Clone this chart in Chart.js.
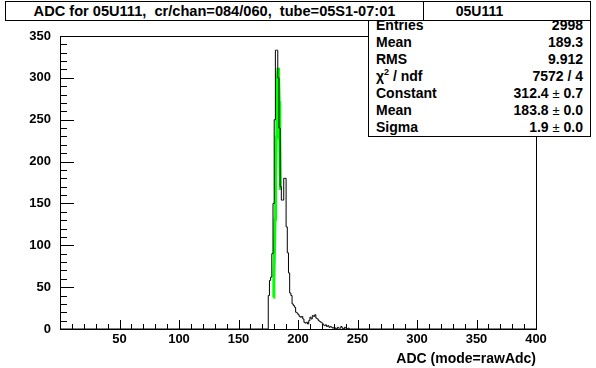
<!DOCTYPE html>
<html>
<head>
<meta charset="utf-8">
<script src="https://cdn.jsdelivr.net/npm/chart.js@4.4.1/dist/chart.umd.min.js"></script>
<style>
  body { margin: 0; background: #fff; }
  #wrap { position: relative; width: 596px; height: 368px; font-family: 'Liberation Sans', Arial, sans-serif; font-weight: bold; color: #000; }
  canvas { position: absolute; left: 0; top: 0; }
  .box { position: absolute; background: #fff; border: 1px solid #000; box-sizing: border-box; }
  #title { left: 5px; top: 1px; width: 419px; height: 20px; font-size: 14.6px; line-height: 19px; text-align: center; z-index: 3; }
  #stats { left: 368px; top: 1px; width: 223px; height: 136px; font-size: 14px; z-index: 2; }
  #stats .head { position: absolute; left: 0; right: 0; top: 0; height: 18px; line-height: 18px; text-align: center; border-bottom: 1px solid #000; }
  #stats .row { position: absolute; left: 7px; right: 7px; height: 17px; line-height: 17px; }
  #stats .row span.v { position: absolute; right: 0; }
  .pm { font-weight: normal; font-size: 13px; }
  sup { font-size: 9px; line-height: 0; vertical-align: 6px; }
</style>
</head>
<body>
<div id="wrap">
  <canvas id="c" width="596" height="368"></canvas>
  <div id="title" class="box">ADC for 05U111,&nbsp; cr/chan=084/060,&nbsp; tube=05S1-07:01</div>
  <div id="stats" class="box"><div class="head">05U111</div></div>
</div>
<script>
// histogram: 1 ADC wide bins starting at binStart
const binStart = 175;
const counts = [40, 58, 62, 90, 150, 250, 333, 333, 300, 240, 170, 154, 154, 180, 180, 122,
  91, 67, 43, 40, 30, 28, 26, 20, 19, 17, 15, 14, 15, 12, 8, 7, 8, 6,
  10, 14, 12, 16, 15, 17, 13, 12, 10, 9, 8, 7, 5,
  4, 5, 3, 4, 2, 3, 2, 1, 2,
  1, 0, 2, 1, 1, 3, 1, 0, 2, 1, 0, 1, 0];

// gaussian fit curve as drawn (green)
const fitX = [179.3, 179.7, 180.2, 180.7, 181.2, 181.7, 182.2, 182.7, 183.2, 183.7, 184.2, 184.7, 185.3];
const fitY = [38, 57, 90, 131, 179, 229, 272, 302, 312, 302, 272, 229, 166];

const statLabels = ['Entries', 'Mean', 'RMS', 'χ<sup>2</sup> / ndf', 'Constant', 'Mean', 'Sigma'];
const statValues = ['2998', '189.3', '9.912', '7572 / 4', '312.4 <span class="pm">±</span> 0.7',
  '183.8 <span class="pm">±</span> 0.0', '1.9 <span class="pm">±</span> 0.0'];

const xMax = 400, yMax = 350, minorStep = 10, majorStep = 50;

const stats = document.getElementById('stats');
statLabels.forEach((l, i) => {
    const r = document.createElement('div');
    r.className = 'row';
    r.style.top = (15 + i * 17) + 'px';
    r.innerHTML = '<span>' + l + '</span><span class="v">' + statValues[i] + '</span>';
    stats.appendChild(r);
});

const histPts = [{ x: 0, y: 0 }];
counts.forEach((c, i) => histPts.push({ x: binStart + i, y: c }));
histPts.push({ x: binStart + counts.length, y: 0 });
histPts.push({ x: xMax, y: 0 });
const fitPts = fitX.map((x, i) => ({ x: x, y: fitY[i] }));

Chart.defaults.font.family = "'Liberation Sans', Arial, sans-serif";
Chart.defaults.font.weight = 'bold';
Chart.defaults.font.size = 13;
Chart.defaults.color = '#000';

// ROOT style: frame and inward ticks
const rootAxes = {
    id: 'rootAxes',
    afterDraw(chart) {
        const ctx = chart.ctx, a = chart.chartArea;
        const xs = chart.scales.x, ys = chart.scales.y;
        ctx.save();
        ctx.strokeStyle = '#000';
        ctx.lineWidth = 1;
        ctx.beginPath();
        xs.ticks.forEach(t => {
            const px = Math.round(xs.getPixelForValue(t.value)) + 0.5;
            const len = t.value % majorStep === 0 ? 9 : 5;
            ctx.moveTo(px, a.bottom);
            ctx.lineTo(px, a.bottom - len);
        });
        ys.ticks.forEach(t => {
            const py = Math.round(ys.getPixelForValue(t.value)) + 0.5;
            const len = t.value % majorStep === 0 ? 14 : 7;
            ctx.moveTo(a.left, py);
            ctx.lineTo(a.left + len, py);
        });
        ctx.stroke();
        ctx.strokeRect(Math.round(a.left) + 0.5, Math.round(a.top) + 0.5,
            Math.round(a.right - a.left), Math.round(a.bottom - a.top));
        ctx.restore();
    }
};

new Chart(document.getElementById('c'), {
    type: 'line',
    data: {
        datasets: [
            { data: histPts, borderColor: '#000', borderWidth: 1, stepped: 'before', pointRadius: 0, fill: false },
            { data: fitPts, borderColor: '#00ff00', borderWidth: 3, pointRadius: 0, fill: false, tension: 0 }
        ]
    },
    options: {
        responsive: false, animation: false, devicePixelRatio: 1,
        layout: { padding: { top: 36, right: 60, left: 0, bottom: 0 } },
        plugins: { legend: { display: false }, tooltip: { enabled: false } },
        scales: {
            x: {
                type: 'linear', min: 0, max: xMax,
                grid: { display: false, drawTicks: false }, border: { display: false },
                ticks: { stepSize: minorStep, autoSkip: false, maxRotation: 0, padding: 3,
                    callback: v => (v % majorStep === 0 && v > 0) ? v : '' },
                title: { display: true, text: 'ADC (mode=rawAdc)', align: 'end', color: '#000',
                    font: { size: 14, weight: 'bold' }, padding: { top: 0, bottom: 0 } },
                afterFit: s => { s.height = 39; }
            },
            y: {
                min: 0, max: yMax,
                grid: { display: false, drawTicks: false }, border: { display: false },
                ticks: { stepSize: minorStep, autoSkip: false, padding: 9,
                    callback: v => v % majorStep === 0 ? v : '' },
                afterFit: s => { s.width = 60; }
            }
        }
    },
    plugins: [rootAxes]
});
</script>
</body>
</html>
